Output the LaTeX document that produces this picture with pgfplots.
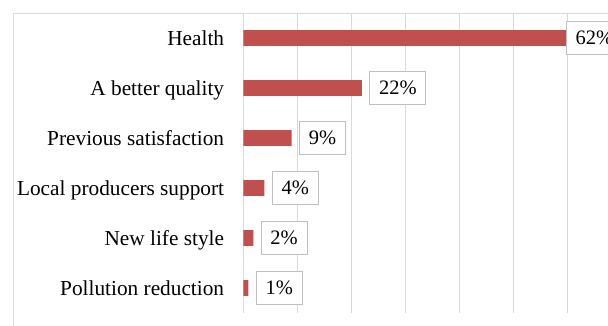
\documentclass[border=0pt]{standalone}
\usepackage{fontspec}
\setmainfont{Liberation Serif}
\usepackage{pgfplots}
\pgfplotsset{compat=1.18}
\definecolor{barred}{HTML}{C0504D}
\definecolor{gridgray}{HTML}{D9D9D9}
\definecolor{boxgray}{HTML}{BFBFBF}
\begin{document}
\begin{tikzpicture}
\useasboundingbox (0,0) rectangle (608bp,326bp);
\clip (0,0) rectangle (608bp,326bp);
\draw[gridgray, line width=1bp] (13.3bp,-5bp) -- (13.3bp,312.7bp) -- (620bp,312.7bp);
\begin{axis}[
 at={(243.3bp,13bp)}, anchor=south west,
 scale only axis, width=377.65bp, height=300bp,
 xmin=0, xmax=70, ymin=-0.5, ymax=5.5,
 xbar, bar width=15.7bp, bar shift=0pt,
 xtick={0,10,...,70}, xticklabels={},
 xmajorgrids, grid style={gridgray, line width=1bp},
 ytick={0,...,5},
 yticklabels={Pollution reduction, New life style, Local producers support, Previous satisfaction, A better quality, Health},
 major tick length=0pt,
 axis line style={draw=none},
 yticklabel style={font=\fontsize{21.3bp}{21.3bp}\selectfont, anchor=base east, inner sep=0pt, xshift=-19bp, yshift=-7.3bp},
 point meta=explicit symbolic,
 nodes near coords,
 nodes near coords style={anchor=west, draw=boxgray, line width=1bp, fill=white, font=\fontsize{20.5bp}{20.5bp}\selectfont, inner xsep=9.2bp, inner ysep=0pt, minimum height=33bp, xshift=7.5bp, text=black},
]
\addplot[fill=barred, draw=none] coordinates {(22,4)[22\%] (8.97,3)[9\%] (3.9,2)[4\%] (1.85,1)[2\%] (0.93,0)[1\%]};
\addplot[fill=barred, draw=none, nodes near coords style={xshift=-7.5bp}] coordinates {(59.8,5)[62\%]};
\end{axis}
\end{tikzpicture}
\end{document}
